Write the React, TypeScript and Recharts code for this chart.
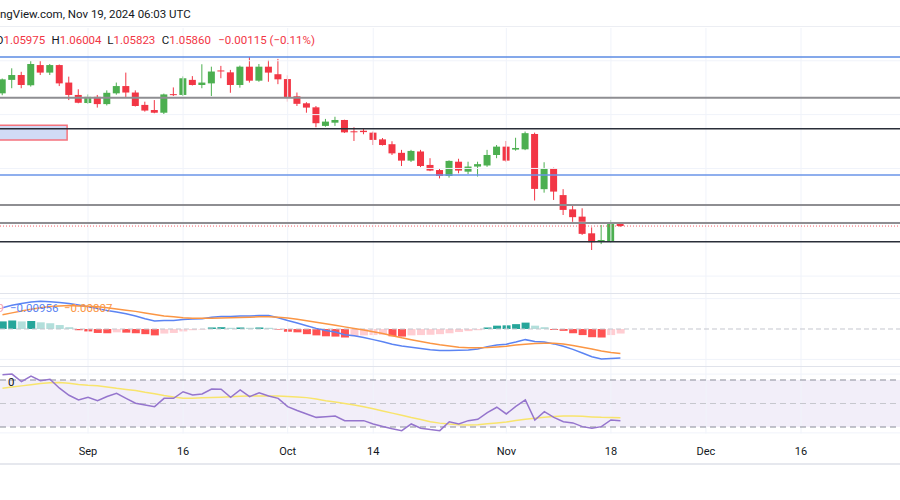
import React from "react";
import {
  ComposedChart,
  Bar,
  Line,
  XAxis,
  YAxis,
  ReferenceLine,
  ReferenceArea,
  Cell,
} from "recharts";

// EUR/USD daily candles, Aug 20 - Nov 19 2024
const dates = [
  "Aug 20", "Aug 21", "Aug 22", "Aug 23", "Aug 26", "Aug 27", "Aug 28", "Aug 29", "Aug 30",
  "Sep 2", "Sep 3", "Sep 4", "Sep 5", "Sep 6", "Sep 9", "Sep 10", "Sep 11", "Sep 12", "Sep 13",
  "Sep 16", "Sep 17", "Sep 18", "Sep 19", "Sep 20", "Sep 23", "Sep 24", "Sep 25", "Sep 26", "Sep 27", "Sep 30",
  "Oct 1", "Oct 2", "Oct 3", "Oct 4", "Oct 7", "Oct 8", "Oct 9", "Oct 10", "Oct 11",
  "Oct 14", "Oct 15", "Oct 16", "Oct 17", "Oct 18", "Oct 21", "Oct 22", "Oct 23", "Oct 24", "Oct 25",
  "Oct 28", "Oct 29", "Oct 30", "Oct 31", "Nov 1", "Nov 4", "Nov 5", "Nov 6", "Nov 7", "Nov 8",
  "Nov 11", "Nov 12", "Nov 13", "Nov 14", "Nov 15", "Nov 18", "Nov 19",
];

const opens = [
  1.1079, 1.1129, 1.1147, 1.1109, 1.1184, 1.1156, 1.1184, 1.1119, 1.1073,
  1.1043, 1.1066, 1.1039, 1.1079, 1.1106, 1.1082, 1.1036, 1.1017, 1.1007, 1.1076,
  1.1073, 1.1129, 1.111, 1.1116, 1.1164, 1.1157, 1.111, 1.1178, 1.1126, 1.1178, 1.115,
  1.1132, 1.1068, 1.1042, 1.1027, 1.0958, 1.097, 1.098, 1.0938, 1.094,
  1.0933, 1.0908, 1.089, 1.0858, 1.0829, 1.0863, 1.0813, 1.0794, 1.0772, 1.0825,
  1.0788, 1.0807, 1.0811, 1.085, 1.0881, 1.087, 1.0871, 1.0928, 1.0723, 1.0801,
  1.0701, 1.0648, 1.0621, 1.0559, 1.0527, 1.053, 1.05975,
];
const highs = [
  1.1134, 1.1172, 1.1159, 1.1199, 1.1199, 1.1188, 1.1186, 1.1141, 1.1094,
  1.1075, 1.1073, 1.109, 1.1119, 1.1156, 1.109, 1.1048, 1.1054, 1.1078, 1.1101,
  1.1142, 1.1143, 1.1187, 1.1178, 1.1181, 1.1166, 1.1182, 1.1214, 1.1188, 1.1203, 1.1207,
  1.1146, 1.1082, 1.1046, 1.1032, 1.0984, 1.0992, 1.0981, 1.0953, 1.0949,
  1.0937, 1.0913, 1.0901, 1.0869, 1.0869, 1.0869, 1.0838, 1.08, 1.083, 1.0836,
  1.0825, 1.0825, 1.0869, 1.0887, 1.0902, 1.0914, 1.0937, 1.0933, 1.0823, 1.0803,
  1.0723, 1.0664, 1.0652, 1.0581, 1.059, 1.0608, 1.06004,
];
const lows = [
  1.1072, 1.1098, 1.1098, 1.1104, 1.1147, 1.1147, 1.1106, 1.1054, 1.1042,
  1.104, 1.1026, 1.1034, 1.1074, 1.1063, 1.103, 1.1011, 1.1005, 1.1002, 1.1069,
  1.1069, 1.1108, 1.1098, 1.1069, 1.1135, 1.1081, 1.11, 1.1119, 1.1122, 1.1122, 1.1113,
  1.1048, 1.1032, 1.1007, 1.0953, 1.0955, 1.0958, 1.0932, 1.0902, 1.0927,
  1.0887, 1.0885, 1.085, 1.0809, 1.0824, 1.0805, 1.079, 1.0763, 1.0766, 1.0782,
  1.0779, 1.077, 1.0806, 1.0838, 1.0825, 1.0866, 1.0868, 1.0681, 1.071, 1.0683,
  1.0627, 1.0594, 1.0553, 1.0497, 1.0519, 1.0524, 1.05823,
];
const closes = [
  1.1131, 1.1147, 1.111, 1.1188, 1.1156, 1.1184, 1.1116, 1.1073, 1.1044,
  1.1066, 1.1039, 1.1081, 1.1106, 1.1082, 1.1032, 1.1015, 1.1007, 1.1075, 1.1073,
  1.1135, 1.111, 1.1119, 1.116, 1.1161, 1.111, 1.1178, 1.1126, 1.1178, 1.1156, 1.1131,
  1.1063, 1.104, 1.1026, 1.0968, 1.0974, 1.098, 1.0934, 1.0936, 1.0935,
  1.0906, 1.0887, 1.0856, 1.0829, 1.0865, 1.0809, 1.0792, 1.0772, 1.0828, 1.0792,
  1.0807, 1.0816, 1.085, 1.0881, 1.0829, 1.0876, 1.0931, 1.0724, 1.0801, 1.0714,
  1.0646, 1.0619, 1.0557, 1.0526, 1.0534, 1.0598, 1.0586,
];

// MACD (12, 26, 9)
const macdLine = [
  0.007, 0.0078, 0.0084, 0.0089, 0.0091, 0.009, 0.0087, 0.0084, 0.0079,
  0.0073, 0.0067, 0.0061, 0.0056, 0.005, 0.0043, 0.0034, 0.0026, 0.0028, 0.0028,
  0.0031, 0.0033, 0.0034, 0.0039, 0.0041, 0.0041, 0.0043, 0.0043, 0.0044, 0.0044, 0.0037,
  0.0028, 0.002, 0.0011, 0.0002, -0.0005, -0.001, -0.0019, -0.0022, -0.0028,
  -0.0035, -0.0042, -0.005, -0.0056, -0.006, -0.0064, -0.0068, -0.0071, -0.0071, -0.007,
  -0.0069, -0.0066, -0.0058, -0.0053, -0.005, -0.0043, -0.0035, -0.0041, -0.0043, -0.0049,
  -0.0057, -0.0067, -0.0079, -0.0091, -0.0099, -0.0097, -0.00956,
];
const signalLine = [
  0.0047, 0.0053, 0.0059, 0.0065, 0.007, 0.0074, 0.0076, 0.0077, 0.0076,
  0.0075, 0.0073, 0.007, 0.0066, 0.0062, 0.0058, 0.0053, 0.0048, 0.0043, 0.004,
  0.0037, 0.0035, 0.0035, 0.0035, 0.0036, 0.0037, 0.0038, 0.0039, 0.004, 0.004, 0.0039,
  0.0036, 0.0032, 0.0027, 0.0022, 0.0017, 0.0012, 0.0007, 0.0002, -0.0003,
  -0.0009, -0.0015, -0.0022, -0.0029, -0.0035, -0.0041, -0.0047, -0.0052, -0.0056, -0.006,
  -0.0062, -0.0062, -0.0061, -0.0059, -0.0057, -0.0053, -0.005, -0.0048, -0.0047, -0.0047,
  -0.0049, -0.0054, -0.006, -0.0066, -0.0072, -0.0077, -0.00807,
];
const histogram = [
  0.0025, 0.0028, 0.0025, 0.0026, 0.0022, 0.0019, 0.0013, 0.0006, -0.0004,
  -0.0008, -0.0013, -0.0014, -0.0011, -0.0012, -0.0014, -0.0017, -0.0021, -0.0015, -0.0013,
  -0.0008, -0.0004, -0.0002, 0.0005, 0.0006, 0.0004, 0.0005, 0.0004, 0.0005, 0.0004, -0.0002,
  -0.0009, -0.0011, -0.0017, -0.0021, -0.0024, -0.0025, -0.0028, -0.0024, -0.0021,
  -0.002, -0.0019, -0.0024, -0.0025, -0.0021, -0.002, -0.0019, -0.0017, -0.0014, -0.001,
  -0.0007, -0.0004, 0.0005, 0.0011, 0.0012, 0.0016, 0.0021, 0.0011, 0.0006, -0.0003,
  -0.0006, -0.0014, -0.002, -0.0027, -0.0028, -0.002, -0.00149,
];

// RSI (14) and its moving average
const rsiLine = [
  74.5, 75, 68.6, 73.4, 69.4, 70.6, 63, 57, 53,
  55.3, 52.4, 56, 58.7, 54.4, 50.2, 48.7, 47.3, 54.4, 54.4,
  60, 57.2, 58.1, 62.3, 62.2, 55.3, 61.5, 55.8, 59.2, 56.4, 54.4,
  47.3, 44, 41, 38.2, 38.8, 39.4, 35.4, 35.4, 35.4,
  32.6, 30.5, 28.5, 26.9, 32.6, 28.9, 27.8, 26.9, 34.5, 32.6,
  35.4, 36.5, 42.2, 46.8, 41.1, 47.5, 53, 36, 43, 38.2,
  34.5, 33.5, 30.3, 28.9, 30.3, 36, 35.4,
];
const rsiMaLine = [
  63, 64, 65, 66, 67, 67.7, 67.8, 67.2, 66.2,
  65.5, 65, 64, 62.9, 62, 61, 59.5, 58.3, 56.8, 55.5,
  54.4, 54.4, 54.8, 55.1, 55.4, 55.8, 56.1, 56.4, 56.4, 56.4, 56.3,
  56, 55.6, 55, 53.8, 52.4, 51.3, 50, 48.8, 47.2,
  45.6, 43.7, 41.8, 40, 38, 36.3, 34.5, 33.3, 32.5, 32,
  31.7, 32, 32.7, 33.5, 34.2, 35.5, 36.5, 37.5, 38.3, 38.9,
  39.3, 39.4, 39.1, 38.6, 38.2, 38, 37.9,
];

// time axis: trading-day offsets from Sep 2
const tickDays = [0, 10, 21, 30, 44, 55, 65, 75];
const tickLabels = ["Sep", "16", "Oct", "14", "Nov", "18", "Dec", "16"];

// drawn levels on the price pane
const levels = [1.1214, 1.1063, 1.0947, 1.0776, 1.0664, 1.0597, 1.0528];
const levelColors = ["#5b8be3", "#8e8e92", "#2a2e39", "#6a95e8", "#8e8e92", "#8e8e92", "#2a2e39"];
const levelWidths = [1.5, 2, 1.5, 1.5, 2, 2, 1.5];
const priceGrid = [1.04, 1.06, 1.08, 1.1, 1.12];
// demand box drawn on the left
const zone = { from: -14, to: -2.2, low: 1.0906, high: 1.096 };

const FONT = "Roboto, 'Noto Sans', Arial, sans-serif";
const UP = "#4caf50";
const DOWN = "#f23645";
const GRID = "#f0f3fa";
const X_DOMAIN: [number, number] = [-9.26, 85.41];
const firstDay = dates.indexOf("Sep 2");
const last = closes.length - 1;

const rows = dates.map((d, k) => ({
  i: k - firstDay,
  date: d,
  o: opens[k],
  h: highs[k],
  l: lows[k],
  c: closes[k],
  macd: macdLine[k],
  signal: signalLine[k],
  hist: histogram[k],
  rsi: rsiLine[k],
  rsiMa: rsiMaLine[k],
}));

const histColor = (v: number, prev: number) =>
  v >= 0 ? (v > prev ? "#26a69a" : "#b2dfdb") : v < prev ? "#ff5252" : "#ffcdd2";

function Candle(props: any) {
  const { x, y, width, height, payload } = props;
  if (x == null || y == null) return null;
  const { o, h, l, c } = payload;
  const color = c >= o ? UP : DOWN;
  const top = Math.min(y, y + height);
  const span = Math.abs(height);
  const py = (v: number) => top + ((h - v) / (h - l)) * span;
  const bTop = py(Math.max(o, c));
  const bBot = py(Math.min(o, c));
  const cx = x + width / 2;
  return (
    <g>
      <line x1={cx} x2={cx} y1={top} y2={top + span} stroke={color} strokeWidth={1} />
      <rect x={x} y={bTop} width={width} height={Math.max(1, bBot - bTop)} fill={color} />
    </g>
  );
}

const margin = { top: 0, right: 0, bottom: 0, left: 0 };

function VGrid() {
  return null;
}

export default function App() {
  return (
    <div
      style={{
        position: "absolute",
        left: 0,
        top: 0,
        width: 900,
        height: 500,
        background: "#fff",
        overflow: "hidden",
        fontFamily: FONT,
      }}
    >
      {/* price pane */}
      <div style={{ position: "absolute", left: 0, top: 28 }}>
        <ComposedChart width={900} height={265} data={rows} margin={margin}>
          <XAxis type="number" dataKey="i" domain={X_DOMAIN} allowDataOverflow hide />
          <YAxis type="number" domain={[1.03373, 1.13217]} allowDataOverflow hide />
          {priceGrid.map((p, k) => (
            <ReferenceLine key={"g" + k} y={p} stroke={GRID} />
          ))}
          {tickDays.map((t, k) => (
            <ReferenceLine key={"v" + k} x={t} stroke={GRID} />
          ))}
          <ReferenceArea
            x1={zone.from}
            x2={zone.to}
            y1={zone.low}
            y2={zone.high}
            ifOverflow="hidden"
            fill="#d1dbf5"
            fillOpacity={1}
            stroke="#f5737d"
            strokeWidth={1.5}
          />
          {levels.map((p, k) => (
            <ReferenceLine key={"l" + k} y={p} stroke={levelColors[k]} strokeWidth={levelWidths[k]} />
          ))}
          <ReferenceLine y={closes[last]} stroke={DOWN} strokeDasharray="1 2" strokeOpacity={0.8} />
          <Bar
            dataKey={(d: any) => [d.l, d.h]}
            barSize={7}
            isAnimationActive={false}
            shape={(p: any) => <Candle {...p} />}
          />
        </ComposedChart>
      </div>

      {/* MACD pane */}
      <div style={{ position: "absolute", left: 0, top: 293 }}>
        <ComposedChart width={900} height={74} data={rows} margin={margin}>
          <XAxis type="number" dataKey="i" domain={X_DOMAIN} allowDataOverflow hide />
          <YAxis type="number" domain={[-0.0125, 0.011842]} allowDataOverflow hide />
          <ReferenceLine y={0.01} stroke={GRID} />
          <ReferenceLine y={-0.01} stroke={GRID} />
          {tickDays.map((t, k) => (
            <ReferenceLine key={"v" + k} x={t} stroke={GRID} />
          ))}
          <ReferenceLine y={0} stroke="#c4c6ce" strokeDasharray="5 3" />
          <Bar dataKey="hist" barSize={8} isAnimationActive={false}>
            {rows.map((r, k) => (
              <Cell key={k} fill={histColor(r.hist, k > 0 ? rows[k - 1].hist : -Infinity)} />
            ))}
          </Bar>
          <Line dataKey="macd" stroke="#5b84f3" strokeWidth={1.5} dot={false} isAnimationActive={false} />
          <Line dataKey="signal" stroke="#fb9644" strokeWidth={1.5} dot={false} isAnimationActive={false} />
        </ComposedChart>
      </div>

      {/* RSI pane + time axis */}
      <div style={{ position: "absolute", left: 0, top: 367 }}>
        <ComposedChart width={900} height={102.5} data={rows} margin={margin}>
          <XAxis
            type="number"
            dataKey="i"
            domain={X_DOMAIN}
            allowDataOverflow
            ticks={tickDays}
            interval={0}
            tickFormatter={(v: number) => tickLabels[tickDays.indexOf(v)]}
            axisLine={false}
            tickLine={false}
            tickMargin={8}
            height={36}
            tick={{ fill: "#131722", fontSize: 11, fontFamily: FONT }}
          />
          <YAxis type="number" domain={[24.47, 81.06]} allowDataOverflow hide />
          <ReferenceLine y={75} stroke={GRID} />
          <ReferenceLine y={25} stroke={GRID} />
          {tickDays.map((t, k) => (
            <ReferenceLine key={"v" + k} x={t} stroke={GRID} />
          ))}
          <ReferenceArea y1={30} y2={70} fill="#7e57c2" fillOpacity={0.1} stroke="none" />
          <ReferenceLine y={70} stroke="#8a8d98" strokeDasharray="6 4" />
          <ReferenceLine y={50} stroke="#c6c7ce" strokeDasharray="6 4" />
          <ReferenceLine y={30} stroke="#8a8d98" strokeDasharray="6 4" />
          <Line dataKey="rsiMa" stroke="#f8e46c" strokeWidth={1.5} dot={false} isAnimationActive={false} />
          <Line dataKey="rsi" stroke="#9575cd" strokeWidth={1.5} dot={false} isAnimationActive={false} />
        </ComposedChart>
      </div>

      {/* pane separators */}
      <div style={{ position: "absolute", left: 0, top: 26, width: 900, height: 1, background: "#eceef3" }} />
      <div style={{ position: "absolute", left: 0, top: 293, width: 900, height: 1, background: "#e0e3eb" }} />
      <div style={{ position: "absolute", left: 0, top: 366, width: 900, height: 1, background: "#e0e3eb" }} />
      <div style={{ position: "absolute", left: 0, top: 463, width: 900, height: 2, background: "#e6e8ee" }} />

      {/* header */}
      <div style={{ position: "absolute", left: 0, top: 6, fontSize: 11.5, lineHeight: "16px", color: "#131722", whiteSpace: "nowrap" }}>
        ngView.com, Nov 19, 2024 06:03 UTC
      </div>
      {[
        { k: "O", v: "1.05975", left: -4.5 },
        { k: "H", v: "1.06004", left: 51.5 },
        { k: "L", v: "1.05823", left: 107.3 },
        { k: "C", v: "1.05860", left: 161.7 },
      ].map((g) => (
        <div
          key={g.k}
          style={{ position: "absolute", left: g.left, top: 32, fontSize: 11.5, lineHeight: "16px", whiteSpace: "nowrap" }}
        >
          <span style={{ color: "#131722" }}>{g.k}</span>
          <span style={{ color: DOWN }}>{g.v}</span>
        </div>
      ))}
      <div style={{ position: "absolute", left: 218.3, top: 32, fontSize: 11.5, lineHeight: "16px", color: DOWN, whiteSpace: "nowrap" }}>
        −0.00115 (−0.11%)
      </div>

      {/* MACD legend */}
      <div style={{ position: "absolute", right: 896, top: 300, fontSize: 11.5, lineHeight: "16px", color: "#f7a3aa", whiteSpace: "nowrap" }}>
        −0.00149
      </div>
      <div style={{ position: "absolute", left: 10, top: 300, fontSize: 11.5, lineHeight: "16px", color: "#5b84f3", whiteSpace: "nowrap" }}>
        −0.00956
      </div>
      <div style={{ position: "absolute", left: 64, top: 300, fontSize: 11.5, lineHeight: "16px", color: "#fb9644", whiteSpace: "nowrap" }}>
        −0.00807
      </div>
      {/* RSI legend remnant */}
      <div style={{ position: "absolute", left: 8, top: 374, fontSize: 11.5, lineHeight: "16px", color: "#131722" }}>0</div>
    </div>
  );
}
